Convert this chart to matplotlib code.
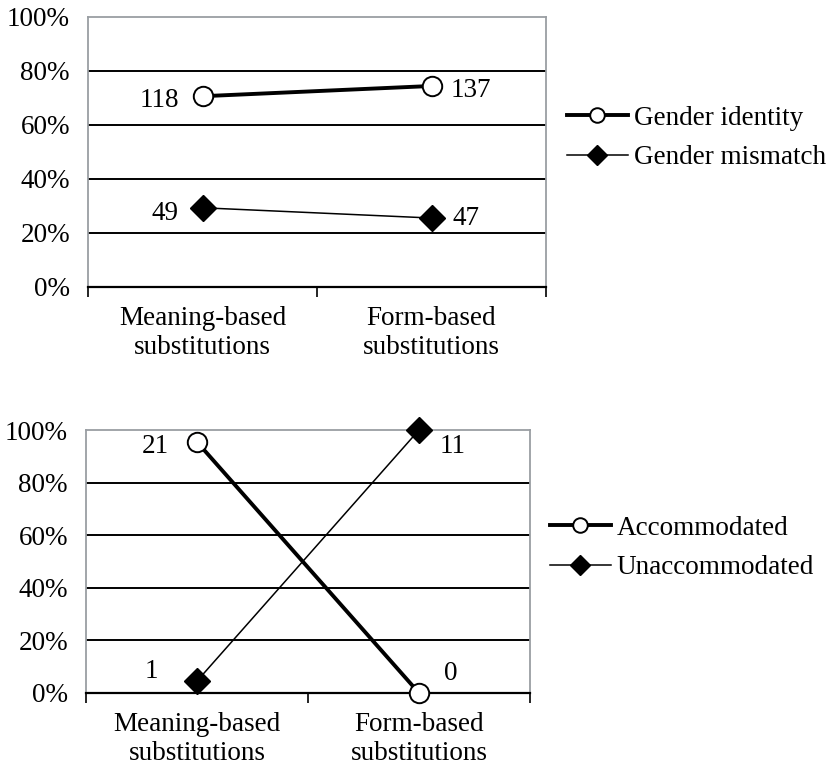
import matplotlib
matplotlib.use("Agg")
import matplotlib.pyplot as plt
import numpy as np

plt.rcParams['font.family'] = ['Liberation Serif', 'DejaVu Serif']

categories = ["Meaning-based\nsubstitutions", "Form-based\nsubstitutions"]
yticks = [0, 20, 40, 60, 80, 100]

# Top chart counts
identity_counts = [118, 137]
mismatch_counts = [49, 47]
# Bottom chart counts
accom_counts = [21, 0]
unaccom_counts = [1, 11]

def shares(a, b):
    a = np.array(a, float); b = np.array(b, float)
    tot = a + b
    return 100 * a / tot, 100 * b / tot

fig = plt.figure(figsize=(8.26, 7.67), dpi=100)
W, H = 826, 767
FS = 19.5

def make_axes(l, r, t, b):
    return fig.add_axes([l / W, 1 - b / H, (r - l) / W, (b - t) / H])

def style(ax):
    ax.set_xlim(0, 2)
    ax.set_ylim(0, 100)
    ax.set_yticks(yticks)
    ax.set_yticklabels([f"{v}%" for v in yticks], fontsize=FS)
    ax.tick_params(axis='y', length=0, pad=13)
    ax.set_xticks([0, 1, 2])
    ax.set_xticklabels([])
    ax.tick_params(axis='x', which='major', length=7, width=1.2, color='black', direction='out')
    ax.set_xticks([0.5, 1.5], minor=True)
    ax.set_xticklabels(categories, minor=True, fontsize=FS, linespacing=1.2)
    ax.tick_params(axis='x', which='minor', length=0, pad=14)
    for s in ['left', 'top', 'right']:
        ax.spines[s].set_color('#9a9ea3')
        ax.spines[s].set_linewidth(1.3)
    ax.spines['bottom'].set_color('black')
    ax.spines['bottom'].set_linewidth(1.6)
    for v in yticks[1:-1]:
        ax.axhline(v, color='black', lw=1.4, zorder=1)

def label(ax, text, xy, off, ha):
    ax.annotate(text, xy, xytext=off, textcoords='offset points',
                ha=ha, va='center', fontsize=FS)

x = np.array([0.5, 1.5])
leg_kw = dict(bbox_transform=fig.transFigure, frameon=False, fontsize=FS,
              handlelength=2.25, handletextpad=0.22, labelspacing=0.52,
              borderaxespad=0, borderpad=0, markerscale=0.75, loc='center left')

# --- Top chart ---
ax1 = make_axes(88, 546, 17, 287)
style(ax1)
gi, gm = shares(identity_counts, mismatch_counts)
l1, = ax1.plot(x, gi, color='black', lw=2.8, marker='o', markersize=14,
               markerfacecolor='white', markeredgecolor='black', markeredgewidth=1.4,
               label='Gender identity', zorder=3)
l2, = ax1.plot(x, gm, color='black', lw=1.1, marker='D', markersize=13,
               markerfacecolor='black', label='Gender mismatch', zorder=3)
label(ax1, str(identity_counts[0]), (x[0], gi[0]), (-17, -3), 'right')
label(ax1, str(identity_counts[1]), (x[1], gi[1]), (14, -3), 'left')
label(ax1, str(mismatch_counts[0]), (x[0], gm[0]), (-17, -4), 'right')
label(ax1, str(mismatch_counts[1]), (x[1], gm[1]), (15, 0), 'left')
ax1.legend(handles=[l1, l2], bbox_to_anchor=(567 / W, 1 - 138 / H), **leg_kw)

# --- Bottom chart ---
ax2 = make_axes(86, 530, 430, 693)
style(ax2)
ac, un = shares(accom_counts, unaccom_counts)
l3, = ax2.plot(x, ac, color='black', lw=2.8, marker='o', markersize=14,
               markerfacecolor='white', markeredgecolor='black', markeredgewidth=1.4,
               label='Accommodated', zorder=3, clip_on=False)
l4, = ax2.plot(x, un, color='black', lw=1.1, marker='D', markersize=13,
               markerfacecolor='black', label='Unaccommodated', zorder=3, clip_on=False)
label(ax2, str(accom_counts[0]), (x[0], ac[0]), (-20, -3), 'right')
label(ax2, str(accom_counts[1]), (x[1], ac[1]), (18, 14), 'left')
label(ax2, str(unaccom_counts[0]), (x[0], un[0]), (-28, 7), 'right')
label(ax2, str(unaccom_counts[1]), (x[1], un[1]), (15, -12), 'left')
ax2.legend(handles=[l3, l4], bbox_to_anchor=(550 / W, 1 - 548 / H), **leg_kw)

fig.savefig('out.png', dpi=100)
